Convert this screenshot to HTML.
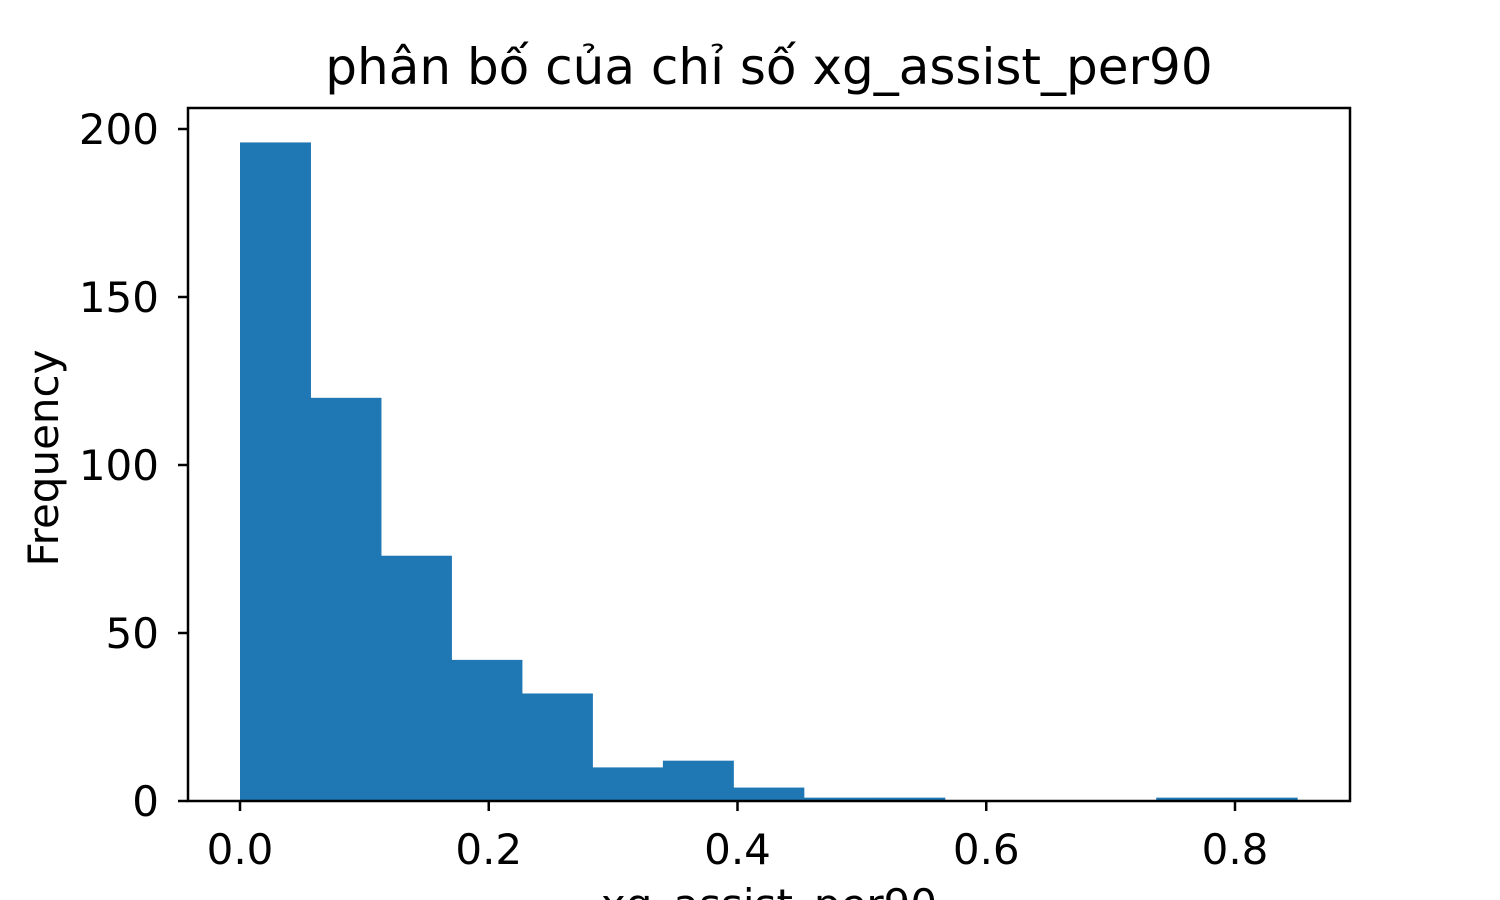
<!DOCTYPE html>
<html><head><meta charset="utf-8"><style>
html,body{margin:0;padding:0;background:#fff;width:1500px;height:900px;overflow:hidden}
svg text{font-family:"DejaVu Sans","Liberation Sans",sans-serif;fill:#000}
</style></head><body>
<svg id="chart" width="1500" height="900" xmlns="http://www.w3.org/2000/svg">
<text x="769" y="84" font-size="50" text-anchor="middle">phân bố của chỉ số xg_assist_per90</text>
<g id="bars"></g>
<g id="axes"></g>
<rect x="188" y="108" width="1162" height="693" fill="none" stroke="#000" stroke-width="2.5"/>
<text transform="translate(58,458) rotate(-90)" font-size="42" text-anchor="middle">Frequency</text>
<text x="769" y="919" font-size="42" text-anchor="middle">xg_assist_per90</text>
</svg>
<script>
const counts=[196,120,73,42,32,10,12,4,1,1,0,0,0,1,1];
const binStart=0, binEnd=0.85;
const xTicks=[0,0.2,0.4,0.6,0.8];
const xTickLabels=["0.0","0.2","0.4","0.6","0.8"];
const yTicks=[0,50,100,150,200];
const yTickLabels=["0","50","100","150","200"];
const NS="http://www.w3.org/2000/svg";
function xs(v){return 240+v*1243.75;}
function ys(v){return 801-v*3.36;}
const bars=document.getElementById('bars'),axes=document.getElementById('axes');
const w=(binEnd-binStart)/counts.length;
counts.forEach((c,i)=>{
  if(c<=0)return;
  const r=document.createElementNS(NS,'rect');
  const x0=xs(binStart+i*w),x1=xs(binStart+(i+1)*w);
  r.setAttribute('x',x0);r.setAttribute('width',x1-x0+0.5);
  r.setAttribute('y',ys(c));r.setAttribute('height',ys(0)-ys(c));
  r.setAttribute('fill','#1f77b4');
  
  
  bars.appendChild(r);
});
xTicks.forEach((t,i)=>{
  const l=document.createElementNS(NS,'line');
  l.setAttribute('x1',xs(t));l.setAttribute('x2',xs(t));l.setAttribute('y1',801);l.setAttribute('y2',811);
  l.setAttribute('stroke','#000');l.setAttribute('stroke-width','2.5');
  
  
  axes.appendChild(l);
  const tx=document.createElementNS(NS,'text');
  tx.setAttribute('x',xs(t));tx.setAttribute('y',864);tx.setAttribute('font-size','42');tx.setAttribute('text-anchor','middle');
  tx.textContent=xTickLabels[i];
  
  
  axes.appendChild(tx);
});
yTicks.forEach((t,i)=>{
  const l=document.createElementNS(NS,'line');
  l.setAttribute('x1',178);l.setAttribute('x2',188);l.setAttribute('y1',ys(t));l.setAttribute('y2',ys(t));
  l.setAttribute('stroke','#000');l.setAttribute('stroke-width','2.5');
  
  
  axes.appendChild(l);
  const tx=document.createElementNS(NS,'text');
  tx.setAttribute('x',159);tx.setAttribute('y',ys(t)+15);tx.setAttribute('font-size','42');tx.setAttribute('text-anchor','end');
  tx.textContent=yTickLabels[i];
  
  
  axes.appendChild(tx);
});
</script>
</body></html>
